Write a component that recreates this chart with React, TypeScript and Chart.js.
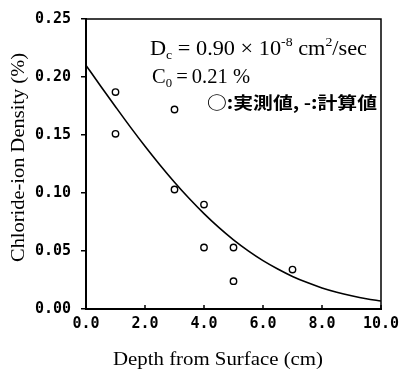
import React, { useEffect, useRef } from 'react';
import { Chart, registerables } from 'chart.js';

Chart.register(...registerables);

// Measured values (○ 実測値)
const measuredDepth = [1, 1, 3, 3, 4, 4, 5, 5, 7];
const measuredChloride = [0.187, 0.151, 0.172, 0.103, 0.090, 0.053, 0.053, 0.024, 0.034];

// Calculated curve (− 計算値)
const curveDepth = [0, 0.5, 1, 1.5, 2, 2.5, 3, 3.5, 4, 4.5, 5, 5.5, 6, 6.5, 7, 7.5, 8, 8.5, 9, 9.5, 10];
const curveChloride = [0.210, 0.1921, 0.1744, 0.1570, 0.1403, 0.1244, 0.1093, 0.0952, 0.0822, 0.0703, 0.0596, 0.0501, 0.0417, 0.0345, 0.0281, 0.0228, 0.0182, 0.0145, 0.0114, 0.0088, 0.0069];

const xMin = 0, xMax = 10, xStep = 2;
const yMin = 0, yMax = 0.25, yStep = 0.05;

const xTitle = 'Depth from Surface (cm)';
const yTitle = 'Chloride-ion Density (%)';
const legendLine = '○:実測値, -:計算値';

const SERIF = '"Liberation Serif", "Times New Roman", serif';
const CJK = '"Noto Sans CJK JP", "Noto Sans CJK SC", sans-serif';

function fitText(ctx: CanvasRenderingContext2D, text: string, x: number, y: number, width: number) {
  const w = ctx.measureText(text).width;
  const s = width / w;
  ctx.save();
  ctx.translate(x, y);
  ctx.scale(s, 1);
  ctx.textAlign = 'left';
  ctx.fillText(text, 0, 0);
  ctx.restore();
}

type Seg = [string, string, number];
function richText(ctx: CanvasRenderingContext2D, segs: Seg[], x: number, baseline: number, width: number) {
  let total = 0;
  segs.forEach(([t, f]) => {
    ctx.font = f;
    total += ctx.measureText(t).width;
  });
  const s = width / total;
  ctx.save();
  ctx.translate(x, baseline);
  ctx.scale(s, 1);
  ctx.textAlign = 'left';
  ctx.textBaseline = 'alphabetic';
  let cx = 0;
  segs.forEach(([t, f, dy]) => {
    ctx.font = f;
    ctx.fillText(t, cx, dy);
    cx += ctx.measureText(t).width;
  });
  ctx.restore();
}

const decorPlugin = {
  id: 'decor',
  afterDraw(chart: any) {
    const { ctx, chartArea } = chart;
    const { left, right, top, bottom } = chartArea;
    ctx.save();
    ctx.strokeStyle = '#000';
    ctx.fillStyle = '#000';
    // frame top & right
    ctx.lineWidth = 1.5;
    ctx.beginPath();
    ctx.moveTo(left, top);
    ctx.lineTo(right, top);
    ctx.lineTo(right, bottom);
    ctx.stroke();
    // inward x tick marks
    const xs = chart.scales.x;
    ctx.beginPath();
    xs.ticks.forEach((t: any) => {
      const px = xs.getPixelForValue(t.value);
      ctx.moveTo(px, bottom);
      ctx.lineTo(px, bottom - 4);
    });
    ctx.stroke();

    // axis titles
    ctx.textBaseline = 'alphabetic';
    ctx.font = `19px ${SERIF}`;
    fitText(ctx, xTitle, 113, 365, 210);
    ctx.save();
    ctx.translate(24, 262);
    ctx.rotate(-Math.PI / 2);
    fitText(ctx, yTitle, 0, 0, 209);
    ctx.restore();

    const big = `21px ${SERIF}`;
    const small = `13px ${SERIF}`;
    richText(ctx, [
      ['D', big, 0], ['c', small, 4], [' = 0.90 × 10', big, 0], ['-8', small, -9],
      [' cm', big, 0], ['2', small, -9], ['/sec', big, 0],
    ], 150, 55, 217);
    richText(ctx, [['C', big, 0], ['0', small, 4], ['\u2009=\u20090.21 %', big, 0]], 152, 83, 98);

    // legend line
    ctx.font = `bold 17px ${CJK}`;
    ctx.textBaseline = 'middle';
    fitText(ctx, legendLine, 207, 103, 170);
    ctx.restore();
  },
};

export default function App() {
  const ref = useRef<HTMLCanvasElement | null>(null);
  useEffect(() => {
    document.body.style.margin = '0';
    const canvas = ref.current!;
    const tickFont = { family: '"DejaVu Sans Mono", monospace', weight: 'bold' as const, size: 15 };
    const chart = new Chart(canvas, {
      type: 'scatter',
      data: {
        datasets: [
          {
            label: '計算値',
            data: curveDepth.map((d, i) => ({ x: d, y: curveChloride[i] })),
            showLine: true,
            borderColor: '#000',
            borderWidth: 1.6,
            pointRadius: 0,
            cubicInterpolationMode: 'monotone',
            fill: false,
          },
          {
            label: '実測値',
            data: measuredDepth.map((d, i) => ({ x: d, y: measuredChloride[i] })),
            showLine: false,
            pointStyle: 'circle',
            pointRadius: 3.2,
            borderWidth: 1.4,
            borderColor: '#000',
            backgroundColor: 'rgba(255,255,255,0)',
          },
        ],
      },
      options: {
        animation: false,
        responsive: false,
        maintainAspectRatio: false,
        layout: { padding: { top: 19, right: 28, left: 0, bottom: 0 } },
        plugins: { legend: { display: false }, tooltip: { enabled: false }, title: { display: false } },
        scales: {
          x: {
            type: 'linear',
            min: xMin,
            max: xMax,
            ticks: {
              stepSize: xStep,
              color: '#000',
              font: tickFont,
              padding: 6,
              maxRotation: 0,
              callback: (v: any) => Number(v).toFixed(1),
            },
            grid: { display: false, drawTicks: false },
            border: { display: true, color: '#000', width: 2 },
            afterFit: (s: any) => {
              s.height = 64;
              s.paddingLeft = 0;
              s.paddingRight = 0;
            },
          },
          y: {
            type: 'linear',
            min: yMin,
            max: yMax,
            ticks: {
              stepSize: yStep,
              color: '#000',
              font: tickFont,
              padding: 10,
              callback: (v: any) => Number(v).toFixed(2),
            },
            grid: { drawOnChartArea: false, drawTicks: true, tickLength: 5, color: '#000', lineWidth: 1.5 },
            border: { display: true, color: '#000', width: 2 },
            afterFit: (s: any) => {
              s.width = 86;
              s.paddingTop = 0;
              s.paddingBottom = 0;
            },
          },
        },
      },
      plugins: [decorPlugin],
    });
    return () => chart.destroy();
  }, []);
  return (
    <div style={{ position: 'fixed', left: 0, top: 0, width: 409, height: 373, background: '#fff' }}>
      <canvas ref={ref} width={409} height={373} style={{ width: 409, height: 373, display: 'block' }} />
    </div>
  );
}
